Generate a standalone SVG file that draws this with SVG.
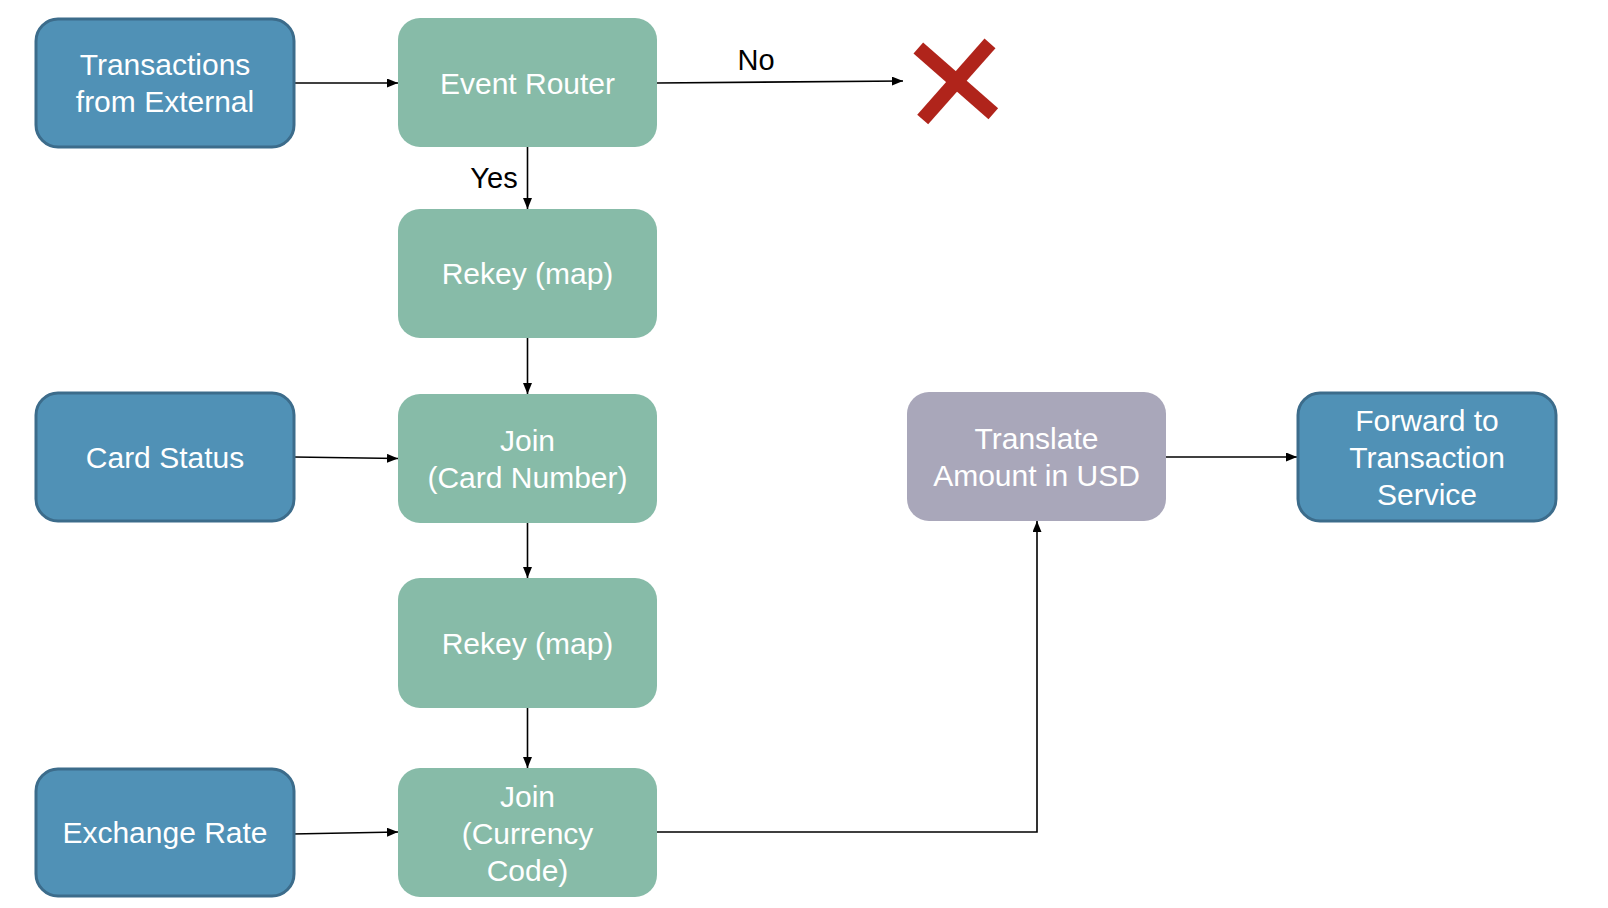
<svg xmlns="http://www.w3.org/2000/svg" width="1608" height="908" viewBox="0 0 1608 908">
<style>
.blue{fill:#5091B6;stroke:#3C6C8B;stroke-width:3}
.green{fill:#87BBA8}
.gray{fill:#A9A7BA}
text{font-family:'Liberation Sans',Arimo,Arial,Helvetica,sans-serif}
.t{font-size:30px;fill:#fff;text-anchor:middle}
.lbl{font-size:29px;fill:#000;text-anchor:middle}
.c{fill:none;stroke:#000;stroke-width:1.6;marker-end:url(#arr)}
</style>
<defs>
<marker id="arr" viewBox="0 0 11 9" refX="11" refY="4.5" markerWidth="11" markerHeight="9" markerUnits="userSpaceOnUse" orient="auto">
<path d="M0,0 L11,4.5 L0,9 Z" fill="#000"/>
</marker>
</defs>
<rect width="1608" height="908" fill="#fff"/>
<g id="connectors">
<line class="c" x1="294" y1="83" x2="398" y2="83"/>
<line class="c" x1="657" y1="83" x2="903" y2="81"/>
<line class="c" x1="527.5" y1="147" x2="527.5" y2="209"/>
<line class="c" x1="527.5" y1="338" x2="527.5" y2="394"/>
<line class="c" x1="527.5" y1="523" x2="527.5" y2="578"/>
<line class="c" x1="527.5" y1="708" x2="527.5" y2="768"/>
<line class="c" x1="294" y1="457" x2="398" y2="458.5"/>
<line class="c" x1="292" y1="834" x2="398" y2="832"/>
<polyline class="c" points="657,832 1037,832 1037,521"/>
<line class="c" x1="1166" y1="457" x2="1297" y2="457"/>
<text class="lbl" x="756" y="70" font-family="Liberation Sans, sans-serif">No</text>
<text class="lbl" x="494" y="188" font-family="Liberation Sans, sans-serif">Yes</text>
</g>
<g id="reject">
<line x1="918.3" y1="48" x2="993.3" y2="113.7" stroke="#B0241B" stroke-width="14.6"/>
<line x1="990" y1="43.3" x2="922.7" y2="119.5" stroke="#B0241B" stroke-width="14.6"/>
</g>
<g id="transactions">
<rect class="blue" x="36" y="19" width="258" height="128" rx="22"/>
<text class="t" x="165" y="75">Transactions</text>
<text class="t" x="165" y="112">from External</text>
</g>
<g id="event-router">
<rect class="green" x="398" y="18" width="259" height="129" rx="22"/>
<text class="t" x="527.5" y="93.5">Event Router</text>
</g>
<g id="rekey1">
<rect class="green" x="398" y="209" width="259" height="129" rx="22"/>
<text class="t" x="527.5" y="284">Rekey (map)</text>
</g>
<g id="card-status">
<rect class="blue" x="36" y="393" width="258" height="128" rx="22"/>
<text class="t" x="165" y="468">Card Status</text>
</g>
<g id="join-card">
<rect class="green" x="398" y="394" width="259" height="129" rx="22"/>
<text class="t" x="527.5" y="451">Join</text>
<text class="t" x="527.5" y="488">(Card Number)</text>
</g>
<g id="rekey2">
<rect class="green" x="398" y="578" width="259" height="130" rx="22"/>
<text class="t" x="527.5" y="654">Rekey (map)</text>
</g>
<g id="exchange-rate">
<rect class="blue" x="36" y="769" width="258" height="127" rx="22"/>
<text class="t" x="165" y="843">Exchange Rate</text>
</g>
<g id="join-currency">
<rect class="green" x="398" y="768" width="259" height="129" rx="22"/>
<text class="t" x="527.5" y="807">Join</text>
<text class="t" x="527.5" y="844">(Currency</text>
<text class="t" x="527.5" y="881">Code)</text>
</g>
<g id="translate">
<rect class="gray" x="907" y="392" width="259" height="129" rx="22"/>
<text class="t" x="1036.5" y="449">Translate</text>
<text class="t" x="1036.5" y="486">Amount in USD</text>
</g>
<g id="forward">
<rect class="blue" x="1298" y="393" width="258" height="128" rx="22"/>
<text class="t" x="1427" y="431">Forward to</text>
<text class="t" x="1427" y="468">Transaction</text>
<text class="t" x="1427" y="505">Service</text>
</g>
</svg>
